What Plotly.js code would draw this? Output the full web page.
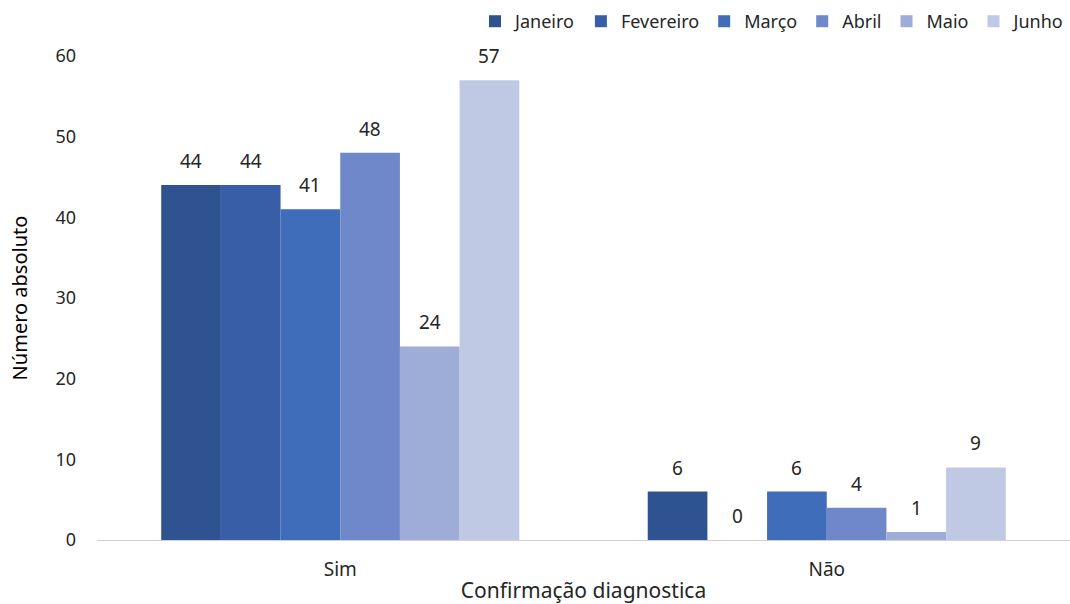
<!DOCTYPE html>
<html>
<head>
<meta charset="utf-8">
<script src="https://cdn.plot.ly/plotly-3.0.1.min.js"></script>
<style>html,body{margin:0;padding:0;background:#fff;}#chart{width:1070px;height:604px;}</style>
</head>
<body>
<div id="chart"></div>
<script>
const categories = ["Sim", "Não"];
const months = ["Janeiro", "Fevereiro", "Março", "Abril", "Maio", "Junho"];
const janeiro = [44, 6];
const fevereiro = [44, 0];
const marco = [41, 6];
const abril = [48, 4];
const maio = [24, 1];
const junho = [57, 9];
const seriesValues = [janeiro, fevereiro, marco, abril, maio, junho];
const colors = ["#2F5290", "#385EA7", "#3F6DBA", "#6E88C9", "#9EADD8", "#C0C9E4"];

const BARGAP = 0.264;

const traces = months.map((m, i) => ({
  type: "bar",
  name: m,
  x: categories,
  y: seriesValues[i],
  marker: {color: colors[i]},
  hoverinfo: "x+y+name"
}));

// data labels placed via the category axis scale (index + group offset)
const nSeries = months.length;
const barW = (1 - BARGAP) / nSeries;
const annotations = [];
seriesValues.forEach((vals, i) => {
  vals.forEach((v, c) => {
    annotations.push({
      xref: "x", yref: "y",
      x: c + (i - (nSeries - 1) / 2) * barW,
      y: v,
      text: String(v),
      showarrow: false,
      yanchor: "bottom",
      yshift: 9,
      font: {family: "Noto Sans, sans-serif", size: 19, color: "#262626"}
    });
  });
});

const layout = {
  width: 1070,
  height: 604,
  margin: {l: 97, r: 0, t: 56, b: 64, autoexpand: false},
  paper_bgcolor: "#ffffff",
  plot_bgcolor: "#ffffff",
  barmode: "group",
  bargap: BARGAP,
  bargroupgap: 0,
  font: {family: "Noto Sans, sans-serif", size: 18, color: "#262626"},
  showlegend: true,
  legend: {
    orientation: "h",
    x: 1, xanchor: "right",
    y: 1.033, yanchor: "bottom",
    font: {size: 18, color: "#262626"},
    itemwidth: 30,
    traceorder: "normal"
  },
  annotations: annotations,
  xaxis: {
    type: "category",
    showline: true,
    linecolor: "#d0d0d0",
    linewidth: 1,
    ticks: "",
    ticklabelstandoff: 12,
    tickfont: {size: 19, color: "#262626"},
    title: {text: "Confirmação diagnostica", font: {size: 21, color: "#262626"}, standoff: 4}
  },
  yaxis: {
    range: [0, 60],
    dtick: 10,
    showgrid: false,
    zeroline: false,
    showline: false,
    ticks: "",
    ticklabelstandoff: 20,
    tickfont: {size: 18, color: "#262626"},
    title: {text: "Número absoluto", font: {size: 20, color: "#000000"}, standoff: 22}
  }
};

Plotly.newPlot("chart", traces, layout, {displayModeBar: false, staticPlot: true});
</script>
</body>
</html>
